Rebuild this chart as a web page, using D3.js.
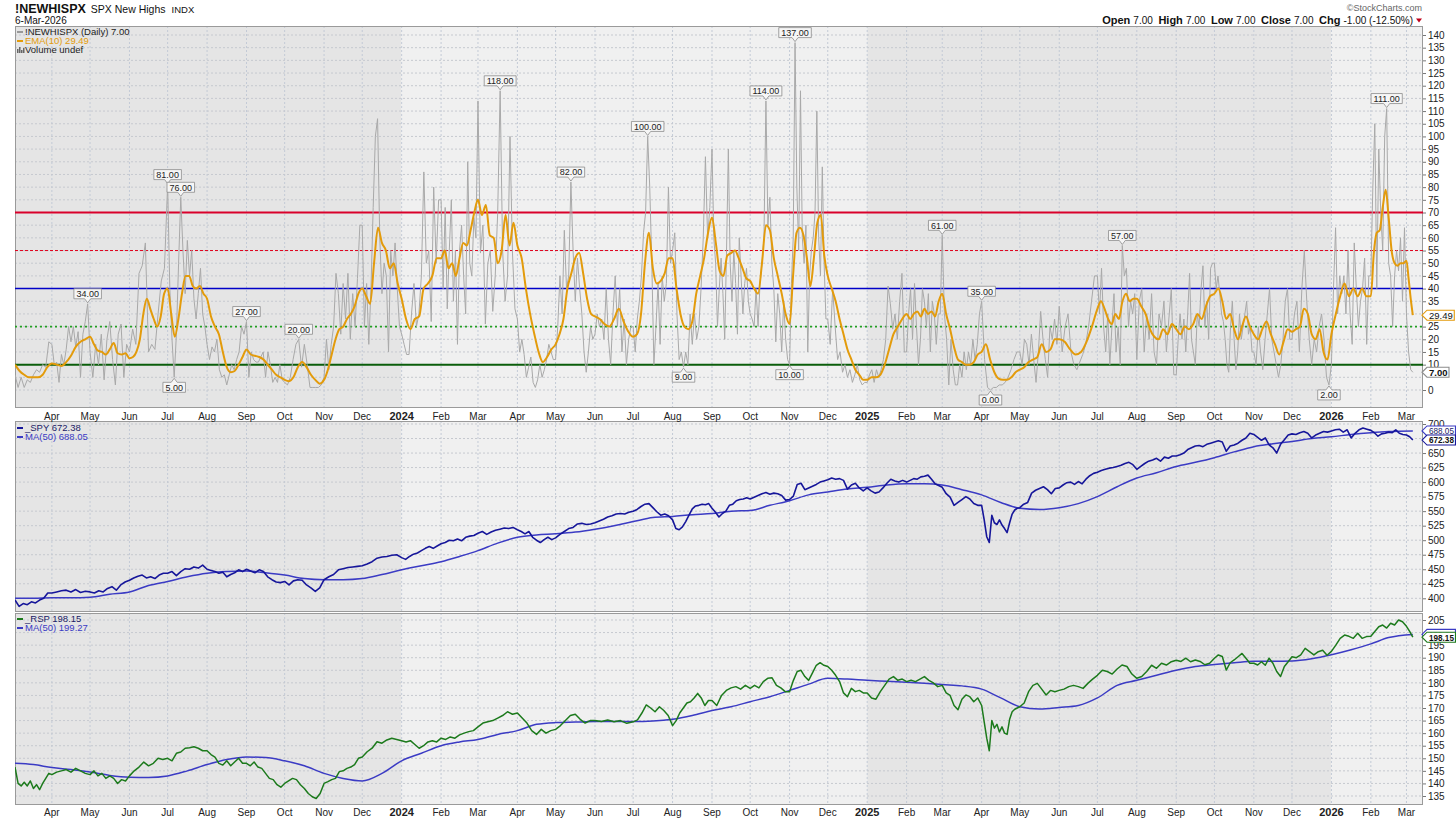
<!DOCTYPE html>
<html>
<head>
<meta charset="utf-8">
<script src="https://cdn.jsdelivr.net/npm/d3@7"></script>
<style>
  body { margin: 0; background: #fff; }
  svg text { font-family: "Liberation Sans", Arial, sans-serif; }
</style>
</head>
<body>
<svg id="chart" width="1456" height="819"></svg>
<script>
// DATA: one sub-array per calendar month, Mar 2023 .. Mar 2026
const firstDay = new Date(2023, 2, 3);
const lastDay = new Date(2026, 2, 6);

const newHighs = [
  [6, 1, 5, 1, 4, 3, 6, 8, 7, 10, 9, 19],
  [18, 10, 11, 3, 14, 10, 16, 25, 19, 25, 17, 23, 5, 22, 27, 34],
  [15, 5, 18, 10, 22, 4, 20, 27, 12, 2, 22, 26, 5, 18],
  [15, 24, 18, 46, 49, 58, 15, 18, 16, 30, 43, 48],
  [81, 40, 20, 5, 22, 50, 76, 55, 38, 59, 45, 55, 36, 28, 38, 48, 30, 25],
  [18, 12, 17, 15, 20, 8, 5, 6, 2, 6, 10, 8, 12, 15, 25, 22],
  [27, 5, 15, 12, 11, 11, 13, 15, 5, 15, 10, 3, 5, 3, 10, 4],
  [3, 2, 5, 12, 18, 20, 9, 18, 10, 1, 1, 1, 1, 2],
  [5, 20, 8, 18, 25, 46, 38, 22, 42, 28, 46, 20, 38, 25, 44, 65],
  [65, 25, 42, 18, 40, 72, 100, 107, 60, 38, 50, 45, 15, 55, 45, 58, 40, 25],
  [22, 18, 14, 14, 30, 42, 25, 30, 45, 86, 50, 55, 27, 80, 50, 75],
  [75, 40, 72, 32, 55, 75, 35, 55, 18, 55, 65, 45, 30, 90, 50, 45, 68, 60],
  [114, 54, 65, 26, 50, 55, 31, 45, 70, 118, 55, 35, 45, 100, 54, 32],
  [28, 15, 20, 14, 5, 9, 13, 3, 1, 4, 10, 5, 8, 12, 18, 15, 12],
  [12, 25, 45, 30, 63, 40, 45, 82, 55, 35, 52, 40, 30, 15, 7, 15, 25, 20],
  [22, 30, 25, 28, 20, 40, 20, 10, 30, 45, 25, 40, 15, 28, 10, 20, 25],
  [25, 15, 28, 35, 45, 62, 70, 100, 80, 50, 10, 25, 42, 18, 45, 35, 42, 80, 50],
  [55, 62, 30, 12, 15, 9, 15, 10, 30, 18, 30, 20, 25, 40, 60, 92, 60, 72],
  [95, 60, 50, 25, 40, 52, 38, 20, 55, 95, 50, 35, 55, 42, 22, 60, 45, 30, 42, 48, 35],
  [30, 28, 25, 40, 25, 42, 50, 60, 114, 65, 76, 50, 40, 19, 38, 30, 15, 35, 20, 12],
  [10, 42, 60, 137, 80, 55, 118, 60, 50, 65, 15, 45, 55, 60, 70, 110, 60, 45, 88, 50, 28],
  [28, 18, 40, 25, 12, 15, 7, 10, 5, 8, 3, 6, 10, 4, 2, 3],
  [3, 6, 8, 3, 8, 5, 8, 12, 20, 41, 34, 24, 30, 20, 35, 46, 15],
  [15, 30, 40, 20, 42, 25, 10, 20, 40, 35, 25, 38, 15, 35, 30, 18, 30, 30],
  [61, 30, 20, 2, 20, 8, 2, 2, 10, 5, 15, 8, 15, 10, 20, 12, 18, 30],
  [35, 12, 1, 0, 1, 1, 2, 2, 3, 5, 8, 12, 15],
  [15, 10, 20, 18, 10, 22, 12, 3, 15, 31, 20, 12, 5, 25, 20, 28, 18],
  [33, 15, 25, 30, 15, 10, 8, 11, 14, 18, 25, 35, 45],
  [45, 30, 48, 25, 15, 30, 10, 25, 38, 15, 25, 10, 57, 45, 48, 25, 35, 30, 38],
  [12, 35, 40, 15, 30, 20, 38, 15, 10, 30, 25, 35, 15, 28, 40, 6],
  [6, 20, 30, 20, 28, 15, 30, 46, 20, 15, 10, 30, 25, 40, 49, 25, 35, 20, 48, 50],
  [50, 40, 45, 38, 30, 27, 20, 10, 7, 25, 35, 20, 8, 15, 30, 20, 25, 30, 35, 22, 25, 15],
  [15, 10, 25, 15, 8, 20, 30, 40, 20, 15, 10, 5, 10, 20, 35, 40, 20],
  [20, 30, 35, 15, 40, 55, 35, 20, 10, 20, 15, 25, 30, 20, 5, 2],
  [10, 40, 64, 30, 45, 38, 45, 30, 55, 30, 18, 58, 40, 25, 35, 40, 52, 18, 45],
  [45, 80, 105, 40, 95, 70, 55, 100, 111, 50, 45, 25, 45, 55, 47, 60, 35, 64],
  [30, 15, 8, 7]
];

const ema10 = [
  [10, 7.5, 6, 5, 5, 5, 6, 9],
  [10.5, 10, 9.5, 11, 13.5, 17, 19, 20],
  [21, 18, 15.5, 15, 14, 16, 18.5, 14.5, 14, 14.5],
  [12.5, 13, 15, 20, 30, 36, 32, 28, 25, 29, 38],
  [40, 30, 21, 28, 38, 45, 45, 41, 40, 41, 38],
  [36, 29, 25, 22, 15, 9, 7, 7.5, 10, 13],
  [16, 14, 13.5, 13, 12, 10, 8, 6, 5],
  [4, 3.5, 5, 9, 11, 9, 6, 4, 2.5],
  [4, 8, 14, 20, 24, 25, 28, 30, 33, 38],
  [40, 37, 34, 50, 64, 58, 55, 48, 50, 42],
  [36, 28, 24, 28, 29, 40, 42, 45, 52],
  [52, 55, 48, 50, 45, 52, 58, 57, 63, 70],
  [75, 69, 73, 61, 60, 50, 55, 69, 57, 66],
  [57, 52, 40, 30, 22, 15, 11, 13, 16],
  [18, 22, 28, 40, 46, 52, 54, 46, 36, 30],
  [29, 28, 26, 25, 28, 32, 27, 23],
  [21, 22, 30, 50, 62, 48, 42, 43, 46, 52],
  [52, 40, 30, 25, 24, 27, 38, 45, 52, 62],
  [68, 58, 47, 45, 53, 54, 55, 52, 48, 44],
  [43, 40, 38, 50, 65, 63, 52, 45, 38, 30],
  [26, 45, 62, 64, 61, 52, 41, 52, 66, 69, 53],
  [45, 40, 35, 28, 22, 16, 12, 8, 6, 4],
  [4, 5, 5, 6, 10, 16, 22, 25, 28],
  [30, 28, 30, 31, 29, 32, 30, 31, 29, 35],
  [38, 30, 24, 17, 12, 11, 10, 10, 11, 14],
  [15, 18, 12, 7, 4.5, 4, 4, 5, 7],
  [8, 9, 11, 12, 13, 18, 15, 16, 20],
  [20, 19, 16, 14, 15, 19, 25],
  [32, 35, 32, 28, 26, 30, 28, 35, 38, 35, 36],
  [36, 33, 30, 24, 21, 20, 24, 22, 26],
  [24, 22, 25, 24, 26, 30, 28, 33, 37],
  [38, 40, 35, 28, 30, 24, 20, 25, 29, 25],
  [22, 20, 24, 27, 22, 18, 14, 19, 24],
  [23, 24, 25, 32, 30, 22, 20, 24, 15, 12],
  [22, 30, 37, 42, 37, 40, 37, 40, 37],
  [37, 54, 62, 63, 72, 79, 68, 55, 50, 49, 50, 50],
  [51, 44, 36, 29.49]
];

const spy = [
  [397, 386, 391, 389, 394, 392, 397, 400, 409],
  [409, 411, 413, 414, 411, 415, 410, 412],
  [411, 409, 413, 411, 417, 420, 414, 423, 428],
  [431, 435, 438, 440, 435, 437, 434, 440, 443],
  [443, 446, 439, 446, 451, 450, 454, 452, 457],
  [450, 448, 446, 443, 445, 437, 441, 444, 449, 446],
  [450, 447, 444, 449, 446, 437, 432, 428, 427],
  [429, 423, 430, 432, 431, 423, 418, 412, 418],
  [432, 437, 441, 449, 451, 453, 454, 455],
  [456, 459, 463, 469, 471, 472, 474, 475],
  [470, 467, 472, 476, 478, 482, 486, 489, 486, 490],
  [494, 496, 500, 499, 502, 499, 505, 507, 508],
  [512, 515, 510, 514, 517, 519, 521, 520, 522],
  [518, 515, 511, 515, 505, 500, 496, 501, 505, 501],
  [504, 510, 515, 520, 522, 528, 529, 527, 528],
  [530, 533, 536, 540, 542, 545, 546, 545, 548],
  [550, 553, 558, 562, 563, 556, 549, 543, 545, 542],
  [535, 520, 518, 523, 532, 543, 554, 559, 560, 562, 561, 563],
  [555, 548, 540, 546, 550, 560, 562, 568, 570, 571, 573],
  [571, 574, 577, 580, 582, 579, 581, 580, 577, 569],
  [570, 576, 596, 598, 587, 590, 593, 596, 600, 602],
  [604, 607, 605, 606, 603, 588, 595, 598, 590, 585],
  [590, 585, 581, 583, 590, 598, 605, 602, 600, 603],
  [600, 603, 606, 605, 609, 610, 612, 605, 597, 594],
  [591, 580, 574, 560, 565, 570, 575, 571, 563, 560],
  [560, 535, 506, 496, 543, 530, 527, 535, 526, 520, 513, 530, 545, 552, 555],
  [556, 562, 565, 581, 586, 589, 592, 587, 580, 589],
  [590, 595, 599, 600, 596, 601, 597, 605, 611, 615],
  [617, 620, 622, 624, 625, 627, 629, 632, 634, 630],
  [622, 627, 632, 636, 638, 641, 636, 643, 641, 645],
  [645, 647, 650, 656, 659, 662, 663, 661, 665, 667],
  [669, 671, 669, 653, 662, 664, 667, 672, 676, 684],
  [682, 677, 672, 676, 664, 659, 650, 665, 673, 681],
  [683, 682, 685, 687, 684, 676, 681, 684, 687, 686],
  [688, 690, 691, 686, 690, 676, 684, 690, 693, 691],
  [689, 685, 679, 683, 684, 686, 685, 690, 684, 682],
  [681, 678, 672.38]
];

const spyMA50 = [
  [400, 400], [401, 401], [402, 407], [411, 422], [429, 437], [443, 446],
  [447, 444], [440, 434], [432, 432], [434, 441], [449, 456], [463, 472],
  [482, 495], [505, 509], [511, 514], [519, 525], [532, 539], [541, 544],
  [546, 550], [551, 560], [568, 578], [583, 588], [591, 595], [597, 597],
  [595, 587], [578, 565], [555, 553], [556, 563], [575, 592], [607, 616],
  [627, 634], [642, 652], [661, 666], [670, 675], [678, 682], [685, 687],
  [688.05]
];

const rsp = [
  [146.5, 140, 139, 140.5, 139, 141, 138, 139.5, 137.5, 140, 142, 144],
  [143.5, 144.5, 145, 145.5, 144.5, 146, 145, 144],
  [143.5, 145, 143, 144, 142, 143, 142, 140, 141.5, 141],
  [143, 145, 146.5, 148.5, 147, 148, 150, 149.5],
  [150, 149, 152, 152.5, 154, 154.2, 154.6, 154, 153],
  [153, 151.5, 150.5, 148, 147.3, 149, 147, 148.5, 150, 148],
  [148, 147, 148.5, 146.5, 146, 144, 142, 141.5, 139.5, 138.5],
  [140, 141, 142, 141.5, 139.5, 138, 136, 134.7, 134, 136],
  [140, 140.7, 141.5, 142, 144.7, 145, 146, 146.5, 147.5, 150],
  [150.5, 152.6, 154, 156.6, 156, 157.3, 158, 157.5],
  [157, 156.5, 157, 155.5, 154, 155, 156.5, 157, 156.5],
  [158, 157.5, 158.5, 158, 159.3, 160, 160.6, 161],
  [162.5, 164, 164.5, 165, 166, 167, 168.5, 167.5],
  [168, 166, 164, 161, 159.5, 161.5, 160, 161],
  [161.5, 163, 165, 167, 167.5, 165.5, 164, 165],
  [165, 164.6, 165.2, 164.5, 165, 163.9],
  [164.5, 165.3, 168, 171.2, 170, 168.5, 170.5, 169, 167],
  [163, 165, 168, 170, 172, 172.5, 174, 175.8, 174, 171, 173],
  [173, 171, 175, 177, 178, 178.5, 177.5, 179],
  [177.8, 179, 178, 180.5, 181.8, 182, 179, 178, 176.5],
  [176.5, 181, 184.5, 185, 182.5, 181, 184, 187, 188, 187],
  [186.5, 185, 183, 180.5, 176, 174.5, 177.8, 176.5, 177, 176],
  [176, 174, 173.5, 176.5, 179, 181.5, 182.5, 181, 181.5],
  [180.5, 181, 180.5, 181.5, 182.5, 181, 180, 178.5],
  [179, 176, 175, 171, 169.3, 173.5, 175.2, 174.5, 172.5, 174],
  [171, 164.5, 158, 153, 165, 162, 163.5, 160.5, 162.5, 160, 159.5, 165.5, 168.5, 169.5, 170],
  [170.5, 172, 176.5, 179, 179.8, 177.5, 175.2, 177, 176.5],
  [177, 177.5, 178.5, 179, 178.5, 177.8, 179.8, 181.5],
  [183, 185, 184.5, 183.5, 185.5, 187.1, 186.5, 183.5],
  [181.8, 182.5, 184.5, 187, 185.8, 187.8, 187.1, 188.4],
  [189, 188.5, 189.8, 188.4, 189.1, 188.5, 187.2, 187.8],
  [189.8, 191.1, 190.5, 185.1, 188, 189.1, 190.4, 191.7, 189.8, 187.8],
  [187.8, 187.1, 188.4, 187, 189.8, 187.8, 184.5, 182.5, 186.5, 188.4],
  [190.4, 190, 191.1, 193.7, 192.4, 191.1, 192.4, 193, 191],
  [192.5, 195, 197.7, 199, 198.5, 197.7, 199.7, 197.7, 198.4],
  [198.5, 200.4, 202.3, 203, 201.8, 203.7, 203, 205, 204.3],
  [202.5, 200.5, 198.15]
];

const rspMA50 = [
  [148, 147.5], [146.3, 145.5], [144.5, 143.2], [142.5, 142.4], [143, 145], [147.5, 149.5],
  [150.5, 150.3], [149, 147], [144, 142], [141, 144], [149, 152], [155, 156.5],
  [157.5, 159.5], [161, 163.5], [164.2, 164.4], [164.6, 164.6], [164.6, 164.8], [165.5, 167],
  [169, 170.5], [172.5, 174.5], [177, 179.5], [181.8, 181.5], [181, 180.6], [180.2, 179.8],
  [179.3, 178.8], [177.5, 174], [170.5, 169.6], [170.2, 171], [174, 179], [181, 183],
  [185, 186.5], [187.3, 188], [188.6, 188.6], [188.7, 189.6], [191.2, 193.2], [195.5, 198],
  [199.27]
];

// labelled highs / lows on the !NEWHISPX line: date, value, side
const nhLabels = [
  ["2023-04-28", 34, "up"], ["2023-06-30", 81, "up"], ["2023-07-10", 76, "up"],
  ["2023-07-05", 5, "down"], ["2023-08-31", 27, "up"], ["2023-10-13", 20, "up"],
  ["2024-03-19", 118, "up"], ["2024-05-14", 82, "up"], ["2024-07-12", 100, "up"],
  ["2024-08-08", 9, "down"], ["2024-10-14", 114, "up"], ["2024-11-06", 137, "up"],
  ["2024-11-02", 10, "down"], ["2025-03-02", 61, "up"], ["2025-04-02", 35, "up"],
  ["2025-04-08", 0, "down"], ["2025-07-21", 57, "up"], ["2025-12-30", 2, "down"],
  ["2026-02-13", 111, "up"]
];

// last values shown as tags on the right axis
const nhLast = 7, emaLast = 29.49;
const spyLast = 672.38, spyMALast = 688.05;
const rspLast = 198.15, rspMALast = 199.27;

// horizontal reference levels in the top panel
const refLevels = [70, 55, 40, 25, 10];
const refStyles = [
  { color: "#d9002b", width: 2, dash: null },
  { color: "#e0001b", width: 1, dash: "3,2" },
  { color: "#0000c8", width: 1.4, dash: null },
  { color: "#22a022", width: 1.6, dash: "2,3" },
  { color: "#0b5e0b", width: 2, dash: null }
];

// spread each month's readings across that month
function spread(monthly) {
  const out = [];
  monthly.forEach((vals, m) => {
    let s = d3.timeMonth.offset(new Date(2023, 2, 1), m);
    let e = d3.timeMonth.offset(s, 1);
    if (m === 0) s = firstDay;
    const last = m === monthly.length - 1;
    if (last) e = lastDay;
    const n = vals.length;
    vals.forEach((v, i) => {
      const t = last ? (n > 1 ? i / (n - 1) : 1) : i / n;
      out.push({ date: new Date(+s + t * (e - s)), value: v });
    });
  });
  return out;
}

const svg = d3.select("#chart");
const plotL = 15, plotR = 1423;
const x = d3.scaleTime()
  .domain([new Date(2023, 2, 3), new Date(2026, 2, 14)])
  .range([plotL, plotR]);

const panels = [
  { id: "nh", top: 26, bottom: 408, y: d3.scaleLinear().domain([0, 140]).range([390, 35]), ticks: d3.range(0, 141, 5), tags: [emaLast, nhLast] },
  { id: "spy", top: 421, bottom: 612, y: d3.scaleLinear().domain([400, 700]).range([598.3, 424]), ticks: d3.range(400, 701, 25), tags: [spyMALast, spyLast] },
  { id: "rsp", top: 613, bottom: 805, y: d3.scaleLinear().domain([135, 205]).range([796, 620]), ticks: d3.range(135, 206, 5), tags: [rspMALast, rspLast] }
];

const defs = svg.append("defs");
const months = d3.timeMonth.range(new Date(2023, 2, 4), new Date(2026, 2, 14));
const yearStarts = [new Date(2023, 2, 3), new Date(2024, 0, 1), new Date(2025, 0, 1), new Date(2026, 0, 1), new Date(2026, 2, 14)];

panels.forEach(p => {
  defs.append("clipPath").attr("id", "clip-" + p.id)
    .append("rect").attr("x", plotL).attr("y", p.top).attr("width", plotR - plotL).attr("height", p.bottom - p.top);

  const g = svg.append("g").attr("class", "panel-" + p.id);
  // year bands
  g.selectAll("rect.band").data(d3.pairs(yearStarts)).join("rect")
    .attr("class", "band")
    .attr("x", d => x(d[0])).attr("width", d => x(d[1]) - x(d[0]))
    .attr("y", p.top).attr("height", p.bottom - p.top)
    .attr("fill", (d, i) => i % 2 === 0 ? "#e5e5e5" : "#f0f0f0");

  // grid
  g.selectAll("line.vg").data(months).join("line")
    .attr("x1", d => x(d)).attr("x2", d => x(d))
    .attr("y1", p.top).attr("y2", p.bottom)
    .attr("stroke", "#c3cad6").attr("stroke-width", 1).attr("stroke-dasharray", "2,2");
  g.selectAll("line.hg").data(p.ticks).join("line")
    .attr("x1", plotL).attr("x2", plotR)
    .attr("y1", d => p.y(d)).attr("y2", d => p.y(d))
    .attr("stroke", "#c6c9cf").attr("stroke-width", 1).attr("stroke-dasharray", "2,2");

  g.append("rect").attr("x", plotL + 0.5).attr("y", p.top + 0.5)
    .attr("width", plotR - plotL - 1).attr("height", p.bottom - p.top - 1)
    .attr("fill", "none").attr("stroke", "#9a9a9a");

  // tick labels that sit under a value tag are hidden, as on the original
  const shown = p.ticks.filter(t => p.tags.every(v => Math.abs(p.y(t) - p.y(v)) > 6.5));
  const ax = svg.append("g").attr("transform", `translate(${plotR},0)`)
    .call(d3.axisRight(p.y).tickValues(shown).tickSize(3).tickPadding(2).tickFormat(d3.format("d")));
  ax.select(".domain").remove();
  ax.selectAll("line").attr("stroke", "#777");
  ax.selectAll("text").attr("font-size", 10).attr("fill", "#222");
  p.layer = svg.append("g").attr("clip-path", `url(#clip-${p.id})`);
});

// month labels under top and bottom panels
function monthLabels(yBase) {
  svg.append("g").selectAll("text").data(months).join("text")
    .attr("x", d => x(d)).attr("y", yBase)
    .attr("text-anchor", "middle")
    .attr("font-size", d => d.getMonth() === 0 ? 11 : 10)
    .attr("font-weight", d => d.getMonth() === 0 ? "bold" : "normal")
    .attr("fill", "#222")
    .text(d => d.getMonth() === 0 ? d3.timeFormat("%Y")(d) : d3.timeFormat("%b")(d));
}
monthLabels(419.5);
monthLabels(815.5);

const [pNH, pSPY, pRSP] = panels;
const nhData = spread(newHighs);
const emaData = spread(ema10);

// reference levels
pNH.layer.selectAll("line.ref").data(refLevels).join("line")
  .attr("x1", plotL).attr("x2", plotR)
  .attr("y1", d => pNH.y(d)).attr("y2", d => pNH.y(d))
  .attr("stroke", (d, i) => refStyles[i].color)
  .attr("stroke-width", (d, i) => refStyles[i].width)
  .attr("stroke-dasharray", (d, i) => refStyles[i].dash);

function drawLine(p, data, color, width, curve) {
  p.layer.append("path").datum(data)
    .attr("fill", "none").attr("stroke", color).attr("stroke-width", width)
    .attr("stroke-linejoin", "round")
    .attr("d", d3.line().x(d => x(d.date)).y(d => p.y(d.value)).curve(curve || d3.curveLinear));
}

drawLine(pNH, nhData, "#a9a9a9", 1);
drawLine(pNH, emaData, "#e39b0b", 2, d3.curveMonotoneX);

drawLine(pSPY, spread(spyMA50), "#3b3bc4", 1.5, d3.curveMonotoneX);
drawLine(pSPY, spread(spy), "#16169a", 1.6);

drawLine(pRSP, spread(rspMA50), "#3b3bc4", 1.5, d3.curveMonotoneX);
drawLine(pRSP, spread(rsp), "#1c7a1c", 1.5);

// peak / trough labels
const parse = d3.timeParse("%Y-%m-%d");
const labG = svg.append("g");
nhLabels.forEach(([ds, val, side]) => {
  const d0 = parse(ds);
  const near = nhData.filter(d => Math.abs(d.date - d0) < 9 * 864e5);
  const pt = near.sort((a, b) => Math.abs(a.value - val) - Math.abs(b.value - val) || Math.abs(a.date - d0) - Math.abs(b.date - d0))[0];
  const px = x(pt.date), py = pNH.y(pt.value);
  const t = labG.append("text").attr("font-size", 9).attr("fill", "#222")
    .attr("text-anchor", "middle").text(val.toFixed(2));
  const w = t.node().getComputedTextLength() + 5, h = 10;
  const up = side === "up";
  const tip = up ? py - 1 : py + 1;
  const base = up ? tip - 4 : tip + 4;
  const far = up ? base - h : base + h;
  labG.insert("path", "text")
    .attr("d", `M${px},${tip}L${px - 3},${base}L${px - w / 2},${base}L${px - w / 2},${far}L${px + w / 2},${far}L${px + w / 2},${base}L${px + 3},${base}Z`)
    .attr("fill", "#f6f6f6").attr("stroke", "#8c8c8c").attr("stroke-width", 0.8);
  t.attr("x", px).attr("y", up ? far + 8.3 : base + 8.3);
});

// value tags on the right axis; the font shrinks so the tag fits the page
function valueTag(y, value, stroke, bold, color) {
  const g = svg.append("g");
  const x0 = plotR + 5, maxW = 1454 - x0 - 1;
  const t = g.append("text").attr("x", x0 + 1).attr("y", y + 3.3)
    .attr("font-size", 9.5).attr("font-weight", bold ? "bold" : "normal")
    .attr("fill", color || "#111").text(value.toFixed(2));
  let tw = t.node().getComputedTextLength();
  if (tw > maxW) {
    t.attr("font-size", 9.5 * maxW / tw);
    tw = t.node().getComputedTextLength();
  }
  const right = Math.min(1455.5, x0 + tw + 2.5);
  g.insert("path", "text")
    .attr("d", `M${plotR - 1},${y}L${x0 - 1},${y - 5}L${right},${y - 5}L${right},${y + 5}L${x0 - 1},${y + 5}Z`)
    .attr("fill", "#fff").attr("stroke", stroke).attr("stroke-width", 1.1);
}
valueTag(pNH.y(emaLast), emaLast, "#e39b0b", false);
valueTag(pNH.y(nhLast), nhLast, "#8c8c8c", true);
valueTag(pSPY.y(spyMALast), spyMALast, "#3b3bc4", false, "#1a1a66");
valueTag(pSPY.y(spyLast), spyLast, "#16169a", true);
valueTag(pRSP.y(rspMALast), rspMALast, "#3b3bc4", false);
valueTag(pRSP.y(rspLast), rspLast, "#1c7a1c", true);

// legends
function legend(x0, yBase, items) {
  items.forEach((it, i) => {
    const y = yBase + i * 9;
    if (it.icon === "bars") {
      [[0, 4], [2, 6], [4, 3], [6, 5]].forEach(([dx, hh]) =>
        svg.append("rect").attr("x", x0 + dx).attr("y", y - hh).attr("width", 1.5).attr("height", hh).attr("fill", "#666"));
    } else {
      svg.append("line").attr("x1", x0).attr("x2", x0 + 6).attr("y1", y - 3).attr("y2", y - 3)
        .attr("stroke", it.mark).attr("stroke-width", 2);
    }
    svg.append("text").attr("x", x0 + 8).attr("y", y).attr("font-size", 9.5)
      .attr("fill", it.color).text(it.text);
  });
}
legend(17, 35, [
  { text: "!NEWHISPX (Daily) 7.00", mark: "#999", color: "#222" },
  { text: "EMA(10) 29.49", mark: "#e39b0b", color: "#e39b0b" },
  { text: "Volume undef", icon: "bars", color: "#222" }
]);
legend(17, 431, [
  { text: "_SPY 672.38", mark: "#16169a", color: "#1a1a66" },
  { text: "MA(50) 688.05", mark: "#3b3bc4", color: "#3b3bc4" }
]);
legend(17, 622, [
  { text: "_RSP 198.15", mark: "#1c7a1c", color: "#1a1a66" },
  { text: "MA(50) 199.27", mark: "#3b3bc4", color: "#3b3bc4" }
]);

// header
const head = svg.append("g").attr("fill", "#111");
let hx = 15;
[["!NEWHISPX", 12.5, "bold", 5], ["SPX New Highs", 10.5, "normal", 6], ["INDX", 9.5, "normal", 0]].forEach(([s, fs, fw, gap]) => {
  const t = head.append("text").attr("x", hx).attr("y", 12.5).attr("font-size", fs).attr("font-weight", fw).text(s);
  hx += t.node().getComputedTextLength() + gap;
});
head.append("text").attr("x", 15).attr("y", 24).attr("font-size", 10).text("6-Mar-2026");
head.append("text").attr("x", 1422).attr("y", 11).attr("font-size", 9).attr("fill", "#666")
  .attr("text-anchor", "end").text("\u00A9StockCharts.com");

const quote = head.append("text").attr("x", 1413).attr("y", 23.5).attr("font-size", 10.5).attr("text-anchor", "end");
[["Open ", true], ["7.00  ", false], ["High ", true], ["7.00  ", false], ["Low ", true], ["7.00  ", false],
 ["Close ", true], ["7.00  ", false], ["Chg ", true], ["-1.00 (-12.50%)", false]].forEach(([s, b]) =>
  quote.append("tspan").attr("font-weight", b ? "bold" : "normal").attr("font-size", b ? 11 : 10).attr("xml:space", "preserve").text(s));
head.append("path").attr("d", "M1416,18.5L1422,18.5L1419,22.5Z").attr("fill", "#c0001a");
</script>
</body>
</html>
